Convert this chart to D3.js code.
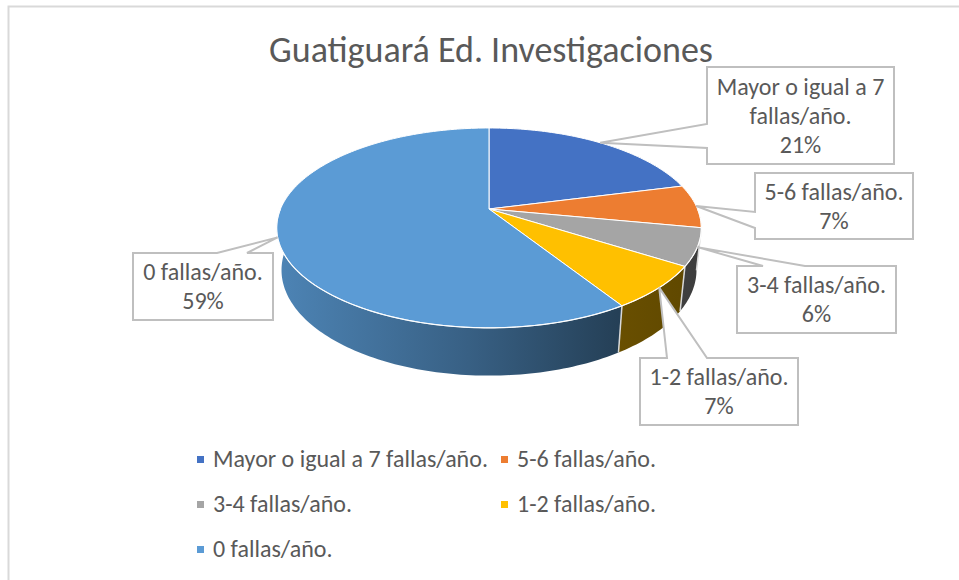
<!DOCTYPE html>
<html>
<head>
<meta charset="utf-8">
<script src="https://cdn.jsdelivr.net/npm/d3@7"></script>
<style>
	body { margin: 0; background: #fff; }
	text { font-family: Calibri, Carlito, Lato, sans-serif; fill: #595959; }
</style>
</head>
<body>
<script>
const title = "Guatiguará Ed. Investigaciones";
const categories = ["Mayor o igual a 7 fallas/año.", "5-6 fallas/año.", "3-4 fallas/año.", "1-2 fallas/año.", "0 fallas/año."];
const values = [21, 7, 6, 7, 59];
const colors = ["#4472C4", "#ED7D31", "#A5A5A5", "#FFC000", "#5B9BD5"];

const width = 959, height = 580;

// camera for the tilted disc (perspective)
const cam = { cx: 489, cy: 209, F: 978, D: 4.69, sinA: 0.462, cosA: 0.887, depth: 0.23 };

// data callout boxes, with the side and span where the tail meets the box
const callouts = [
	{ x: 707, y: 67, w: 187, h: 97, edge: "left", b0: 124, b1: 148 },
	{ x: 755, y: 173, w: 158, h: 66, edge: "left", b0: 212, b1: 228 },
	{ x: 737, y: 266, w: 159, h: 67, edge: "top", b0: 763, b1: 805 },
	{ x: 640, y: 358, w: 158, h: 67, edge: "top", b0: 667, b1: 707 },
	{ x: 133, y: 253, w: 140, h: 67, edge: "top", b0: 217, b1: 247 }
];

const legendCols = [197, 501];
const legendRows = [467, 512, 557];

const svg = d3.select("body").append("svg")
	.attr("width", width)
	.attr("height", height);

svg.append("rect")
	.attr("x", 8.5).attr("y", 6.5)
	.attr("width", 1000).attr("height", 1000)
	.attr("fill", "#fff")
	.attr("stroke", "#d9d9d9")
	.attr("stroke-width", 2);

svg.append("text")
	.attr("x", 491).attr("y", 62)
	.attr("text-anchor", "middle")
	.attr("font-size", 36)
	.text(title);

function project(phi, r, z) {
	const X = r * Math.sin(phi), Y = r * Math.cos(phi);
	const yv = Y * cam.sinA + z * cam.cosA;
	const zv = Y * cam.cosA - z * cam.sinA + cam.D;
	return [cam.cx + cam.F * X / zv, cam.cy - cam.F * yv / zv];
}

function arcPoints(a0, a1, z) {
	const n = Math.max(2, Math.ceil((a1 - a0) / 0.02));
	return d3.range(n + 1).map(i => project(a0 + (a1 - a0) * i / n, 1, z));
}

const line = d3.line();
const total = d3.sum(values);
const pie = d3.pie().sort(null).value(d => d)(values);

// side shading, lit from the left
const defs = svg.append("defs");
const shade = [[0, 0.85], [0.45, 0.62], [0.8, 0.41], [1, 0.37]];
colors.forEach((c, i) => {
	const g = defs.append("linearGradient")
		.attr("id", "side" + i)
		.attr("gradientUnits", "userSpaceOnUse")
		.attr("x1", 277).attr("x2", 702).attr("y1", 0).attr("y2", 0);
	const base = d3.rgb(c);
	shade.forEach(([o, k]) => {
		g.append("stop")
			.attr("offset", o)
			.attr("stop-color", d3.rgb(base.r * k, base.g * k, base.b * k).formatHex());
	});
});

const pieG = svg.append("g");

// front side of the disc
const lo = Math.PI / 2, hi = 3 * Math.PI / 2;
pie.forEach((d, i) => {
	const s0 = Math.max(d.startAngle, lo), s1 = Math.min(d.endAngle, hi);
	if (s1 <= s0) return;
	const pts = arcPoints(s0, s1, 0).concat(arcPoints(s0, s1, -cam.depth).reverse());
	pieG.append("path")
		.attr("d", line(pts) + "Z")
		.attr("fill", `url(#side${i})`);
});

// separators on the side
pie.forEach(d => {
	const a = d.startAngle;
	if (a <= lo || a >= hi) return;
	const p0 = project(a, 1, 0), p1 = project(a, 1, -cam.depth);
	pieG.append("line")
		.attr("x1", p0[0]).attr("y1", p0[1])
		.attr("x2", p1[0]).attr("y2", p1[1])
		.attr("stroke", "#d9d9d9")
		.attr("stroke-width", 1.5);
});

// top face
pie.forEach((d, i) => {
	const pts = [project(0, 0, 0)].concat(arcPoints(d.startAngle, d.endAngle, 0));
	pieG.append("path")
		.attr("d", line(pts) + "Z")
		.attr("fill", colors[i])
		.attr("stroke", "#fff")
		.attr("stroke-width", 1)
		.attr("stroke-linejoin", "round");
});

pieG.append("path")
	.attr("d", line(arcPoints(lo, hi, 0)))
	.attr("fill", "none")
	.attr("stroke", "#fff")
	.attr("stroke-opacity", 0.85)
	.attr("stroke-width", 1.2);

// data callouts
function calloutPath(b, apex) {
	const r = b.x + b.w, btm = b.y + b.h;
	if (b.edge === "left") {
		return line([[b.x, b.y], [r, b.y], [r, btm], [b.x, btm], [b.x, b.b1], apex, [b.x, b.b0]]) + "Z";
	}
	return line([[b.x, b.y], [b.b0, b.y], apex, [b.b1, b.y], [r, b.y], [r, btm], [b.x, btm]]) + "Z";
}

function wrap(words, maxW, probe) {
	const out = [];
	let cur = "";
	words.forEach(w => {
		const test = cur ? cur + " " + w : w;
		probe.text(test);
		if (cur && probe.node().getComputedTextLength() > maxW) {
			out.push(cur);
			cur = w;
		} else {
			cur = test;
		}
	});
	if (cur) out.push(cur);
	return out;
}

const labelSize = 24, lineH = 29;
const probe = svg.append("text").attr("font-size", labelSize).attr("visibility", "hidden");

pie.forEach((d, i) => {
	const b = callouts[i];
	const apex = project((d.startAngle + d.endAngle) / 2, 1, 0);
	const g = svg.append("g");
	g.append("path")
		.attr("d", calloutPath(b, apex))
		.attr("fill", "#fff")
		.attr("stroke", "#bfbfbf")
		.attr("stroke-width", 2)
		.attr("stroke-linejoin", "miter");

	const lines = wrap(categories[i].split(" "), b.w - 10, probe);
	lines.push(Math.round(values[i] / total * 100) + "%");
	const mid = b.y + b.h / 2;
	lines.forEach((t, j) => {
		g.append("text")
			.attr("x", b.x + b.w / 2)
			.attr("y", mid + (j - (lines.length - 1) / 2) * lineH + 8)
			.attr("text-anchor", "middle")
			.attr("font-size", labelSize)
			.text(t);
	});
});
probe.remove();

// legend
const legend = svg.append("g");
categories.forEach((c, i) => {
	const x = legendCols[i % 2], y = legendRows[Math.floor(i / 2)];
	legend.append("rect")
		.attr("x", x).attr("y", y - 11)
		.attr("width", 7).attr("height", 7)
		.attr("fill", colors[i]);
	legend.append("text")
		.attr("x", x + 16).attr("y", y)
		.attr("font-size", labelSize)
		.text(c);
});
</script>
</body>
</html>
